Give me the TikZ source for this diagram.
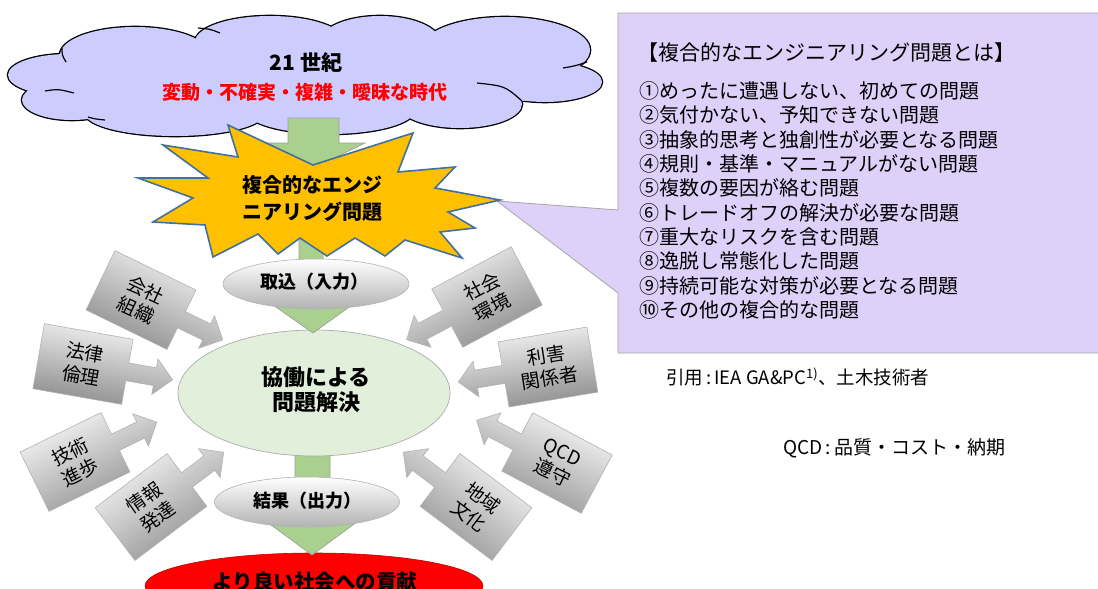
\documentclass[tikz,border=0pt]{standalone}
\usepackage{fontspec}
\setmainfont{Noto Sans CJK JP}
\usetikzlibrary{shapes.geometric}
\definecolor{cloudfill}{RGB}{204,204,255}
\definecolor{calloutfill}{RGB}{221,209,249}
\definecolor{arrowgreen}{RGB}{169,208,142}
\definecolor{burstfill}{RGB}{255,192,0}
\definecolor{burstline}{RGB}{65,113,156}
\definecolor{solvefill}{RGB}{226,239,218}
\begin{document}
\begin{tikzpicture}[x=1pt,y=-1pt,
  greenarrow/.style={fill=arrowgreen, draw=gray!75, line width=0.7pt},
  burst/.style={fill=burstfill, draw=burstline, line width=1.6pt, line join=miter, miter limit=20},
  graybox/.style={draw=gray!60, line width=0.6pt, top color=black!3, bottom color=black!45},
  boxtext/.style={font=\fontsize{19}{23}\selectfont, align=center, inner sep=0pt},
  greyoval/.style={ellipse, draw=gray!60, line width=0.6pt, top color=white, bottom color=black!30, inner sep=0pt},
  listtext/.style={anchor=west, inner sep=0pt, font=\fontsize{20}{24}\selectfont},
  boldlabel/.style={inner sep=0pt, align=center},
  cloudline/.style={line width=1.2pt}
]
\useasboundingbox (0,0) rectangle (1098,589);
\clip (0,0) rectangle (1098,589);
\fill[white] (0,0) rectangle (1098,589);

% callout box with pointer
\path[fill=calloutfill, draw=gray!70, line width=0.8pt]
  (618,13) -- (1110,13) -- (1110,353) -- (618,353) -- (618,293) -- (497,201) -- (618,210) -- cycle;

% cloud (union of ellipses)
\foreach \cx/\cy/\rx/\ry in {68/75/60/21, 72/100/50/20, 175/113/90/23, 330/110/85/24, 460/104/62/24, 545/82/57/20, 505/50/85/33, 380/42/60/26, 270/42/75/26, 135/55/75/28}
  \draw[line width=2.6pt] (\cx,\cy) ellipse [x radius=\rx, y radius=\ry];
\foreach \cx/\cy/\rx/\ry in {68/75/60/21, 72/100/50/20, 175/113/90/23, 330/110/85/24, 460/104/62/24, 545/82/57/20, 505/50/85/33, 380/42/60/26, 270/42/75/26, 135/55/75/28}
  \fill[cloudfill] (\cx,\cy) ellipse [x radius=\rx, y radius=\ry];
\fill[cloudfill] (305,78) ellipse [x radius=260, y radius=42];
\draw[cloudline] (45,91) .. controls (58,89) .. (74,93);
\draw[cloudline] (88,117) .. controls (95,119) .. (105,120);
\draw[cloudline] (198,28) .. controls (210,29) .. (220,33);
\draw[cloudline] (477,83) .. controls (505,86) .. (522,101);
\draw[cloudline] (563,68) .. controls (575,66) .. (587,62);
\draw[cloudline] (62,48) .. controls (62,55) .. (66,62);

\node[boldlabel, font=\fontsize{21}{24}\selectfont\bfseries] (era) at (306,63) {21 世紀};
\node[boldlabel, font=\fontsize{19}{22}\selectfont\bfseries, text=red] (vuca) at (305,92) {変動・不確実・複雑・曖昧な時代};

% lower ellipses
\node[ellipse, fill=red, draw=red!75!black, line width=0.6pt, minimum width=338pt, minimum height=66pt] (goal) at (314,586) {};
\path[greenarrow] (295,454) -- (330,454) -- (330,522) -- (357,522) -- (312,555) -- (267,522) -- (295,522) -- cycle;
\node[ellipse, draw=gray!65, line width=0.7pt, fill=solvefill, minimum width=272pt, minimum height=126pt] (solve) at (314,393) {};

% green arrows behind the starburst
\path[greenarrow] (288,118) -- (339,118) -- (339,143) -- (365,143) -- (314,168) -- (263,143) -- (288,143) -- cycle;
\path[greenarrow] (299,200) -- (323,200) -- (323,305) -- (352,305) -- (313,333) -- (273,305) -- (299,305) -- cycle;

% starburst
\path[burst] (228,125) -- (313,165) -- (413,133) -- (398,172) -- (455,167) -- (435,188) -- (500,200)
  -- (448,212) -- (475,228) -- (440,232) -- (462,258) -- (405,240) -- (385,256) -- (355,238)
  -- (327,256) -- (300,238) -- (278,254) -- (258,234) -- (213,257) -- (205,225) -- (153,222)
  -- (193,198) -- (138,178) -- (208,178) -- (163,145) -- (238,157) -- cycle;
\node[boldlabel, font=\fontsize{20}{27}\selectfont\bfseries] (burstlabel) at (312,198) {複合的なエンジ\\ニアリング問題};

% input / output ovals
\node[greyoval, minimum width=186pt, minimum height=50pt] (intake) at (316,284) {};
\node[boldlabel, font=\fontsize{18}{20}\selectfont\bfseries] (intaketext) at (314,282) {取込（入力）};
\node[greyoval, minimum width=185pt, minimum height=50pt] (output) at (307,502) {};
\node[boldlabel, font=\fontsize{18}{20}\selectfont\bfseries] (outputtext) at (307,501) {結果（出力）};

\node[boldlabel, font=\fontsize{22}{25}\selectfont\bfseries] (solvetext) at (316,390) {協働による\\問題解決};
\node[boldlabel, font=\fontsize{20.5}{22}\selectfont\bfseries] (goaltext) at (315,582) {より良い社会への貢献};

% grey arrow callouts
\foreach \nm/\cx/\cy/\rot/\sh/\txt in {
  kaisha/141/300/-26/-25/{会社\\組織},
  houritsu/83/364/-10/-10/{法律\\倫理},
  gijutsu/75/462/26/27/{技術\\進歩},
  jouhou/151/507/37/35/{情報\\発達},
  shakai/487/297/208/27.5/{社会\\環境},
  rigai/548/367/189.5/9/{利害\\関係者},
  qcd/557/463/152/-25.5/{QCD\\遵守},
  chiiki/476/507/143/-37/{地域\\文化}} {
  \begin{scope}[shift={(\cx,\cy)}, rotate=\rot]
    \path[graybox, shading angle=\sh] (-45,-33) -- (45,-33) -- (45,-9) -- (73,-9) -- (73,-18) -- (91,0)
      -- (73,18) -- (73,9) -- (45,9) -- (45,33) -- (-45,33) -- cycle;
  \end{scope}
  \node[boxtext, rotate=\sh] (\nm) at (\cx,\cy) {\txt};
}

% callout text
\node[anchor=west, inner sep=0pt, font=\fontsize{21}{24}\selectfont] (ctitle) at (637,53) {【複合的なエンジニアリング問題とは】};
\foreach \i/\t in {1/①めったに遭遇しない、初めての問題, 2/②気付かない、予知できない問題, 3/③抽象的思考と独創性が必要となる問題, 4/④規則・基準・マニュアルがない問題, 5/⑤複数の要因が絡む問題, 6/⑥トレードオフの解決が必要な問題, 7/⑦重大なリスクを含む問題, 8/⑧逸脱し常態化した問題, 9/⑨持続可能な対策が必要となる問題, 10/⑩その他の複合的な問題}
  \node[listtext] (item\i) at (639,{91+24.3*(\i-1)}) {\t};

\node[anchor=west, inner sep=0pt, font=\fontsize{18.5}{22}\selectfont] (cite) at (666,377) {引用\,:\,IEA GA\&PC\textsuperscript{1)}、土木技術者};
\node[anchor=west, inner sep=0pt, font=\fontsize{19}{22}\selectfont] (qcdnote) at (783,448) {QCD\,:\,品質・コスト・納期};
\end{tikzpicture}
\end{document}
